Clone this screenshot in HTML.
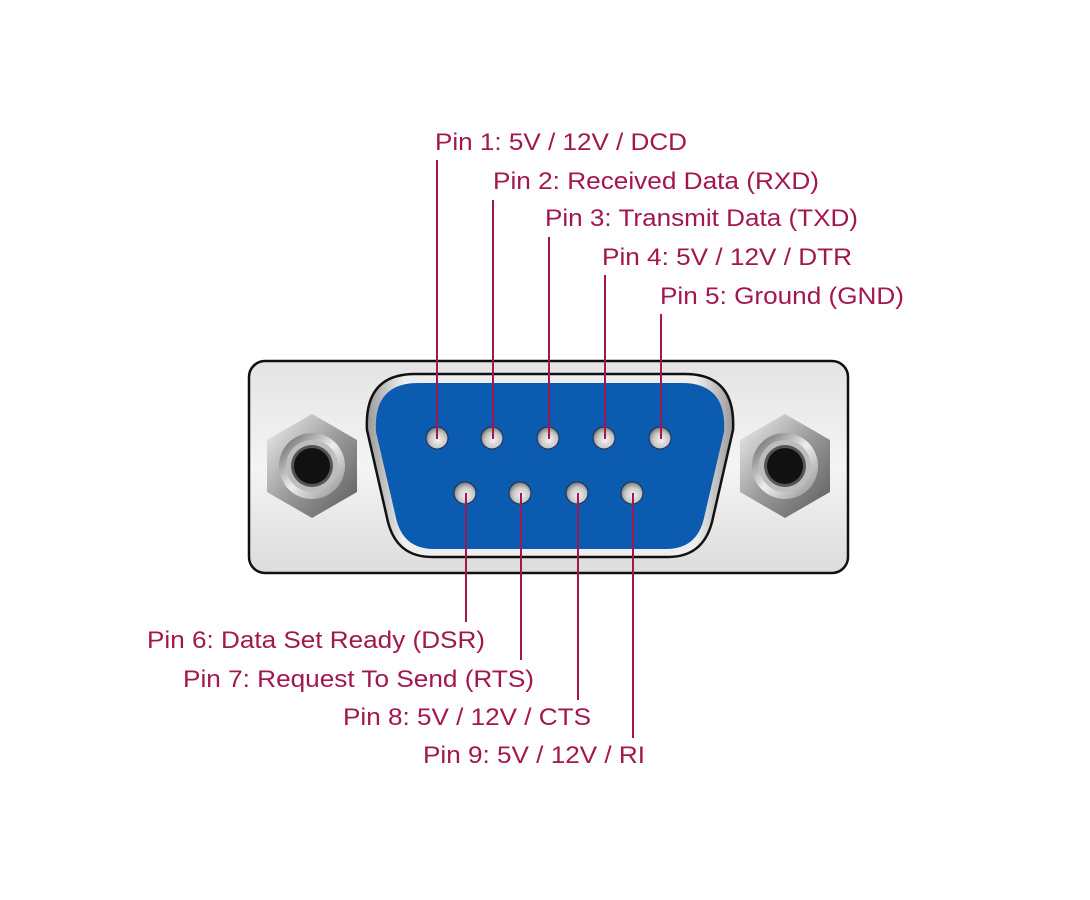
<!DOCTYPE html>
<html><head><meta charset="utf-8"><style>html,body{margin:0;padding:0;background:#fff;}svg{display:block}</style></head>
<body>
<svg width="1090" height="900" viewBox="0 0 1090 900" xmlns="http://www.w3.org/2000/svg">
<defs>
<linearGradient id="plate" x1="0" y1="0" x2="0" y2="1">
<stop offset="0" stop-color="#e4e4e4"/><stop offset="0.5" stop-color="#f4f4f4"/><stop offset="1" stop-color="#dcdcdc"/>
</linearGradient>
<linearGradient id="hex" x1="0" y1="0" x2="1" y2="1">
<stop offset="0" stop-color="#f2f2f2"/><stop offset="0.5" stop-color="#9a9a9a"/><stop offset="1" stop-color="#5a5a5a"/>
</linearGradient>
<linearGradient id="ring" x1="0" y1="0" x2="1" y2="1">
<stop offset="0" stop-color="#555"/><stop offset="0.5" stop-color="#eee"/><stop offset="1" stop-color="#888"/>
</linearGradient>
<radialGradient id="pin" cx="0.55" cy="0.6" r="0.6">
<stop offset="0" stop-color="#f4f4f4"/><stop offset="0.6" stop-color="#c8c8c8"/><stop offset="1" stop-color="#777"/>
</radialGradient>
<linearGradient id="rim" x1="0" y1="0" x2="1" y2="0">
<stop offset="0" stop-color="#999"/><stop offset="0.1" stop-color="#eee"/><stop offset="0.9" stop-color="#eee"/><stop offset="1" stop-color="#999"/>
</linearGradient>
</defs>
<rect x="249" y="361" width="599" height="212" rx="16" fill="url(#plate)" stroke="#111" stroke-width="2.5"/>
<!-- nuts -->
<g transform="translate(312,466)">
<polygon points="0,-52 45,-26 45,26 0,52 -45,26 -45,-26" fill="url(#hex)"/>
<circle r="33" fill="url(#ring)"/><circle r="26" fill="#bdbdbd"/><circle r="21" fill="#555"/><circle r="18" fill="#111"/>
</g>
<g transform="translate(785,466)">
<polygon points="0,-52 45,-26 45,26 0,52 -45,26 -45,-26" fill="url(#hex)"/>
<circle r="33" fill="url(#ring)"/><circle r="26" fill="#bdbdbd"/><circle r="21" fill="#555"/><circle r="18" fill="#111"/>
</g>
<!-- D shell -->
<path d="M415,374 L685,374 Q736,374 733,430 L712,522 Q703,557 668,557 L432,557 Q397,557 388,522 L367,430 Q364,374 415,374 Z" fill="url(#rim)" stroke="#111" stroke-width="2.5"/>
<path d="M418,383 L682,383 Q727,383 724,432 L704,518 Q697,549 666,549 L434,549 Q403,549 396,518 L376,432 Q373,383 418,383 Z" fill="#0b5cb0"/>
<g fill="url(#pin)" stroke="#1a3050" stroke-width="1">
<circle cx="437" cy="438" r="11"/><circle cx="492" cy="438" r="11"/><circle cx="548" cy="438" r="11"/><circle cx="604" cy="438" r="11"/><circle cx="660" cy="438" r="11"/>
<circle cx="465" cy="493" r="11"/><circle cx="520" cy="493" r="11"/><circle cx="577" cy="493" r="11"/><circle cx="632" cy="493" r="11"/>
</g>
<g stroke="#a3174f" stroke-width="2">
<line x1="437" y1="160" x2="437" y2="439"/>
<line x1="493" y1="200" x2="493" y2="439"/>
<line x1="549" y1="237" x2="549" y2="439"/>
<line x1="605" y1="275" x2="605" y2="439"/>
<line x1="661" y1="314" x2="661" y2="439"/>
<line x1="466" y1="493" x2="466" y2="622"/>
<line x1="521" y1="493" x2="521" y2="660"/>
<line x1="578" y1="493" x2="578" y2="700"/>
<line x1="633" y1="493" x2="633" y2="738"/>
</g>
<g fill="#a3174f" font-family="Liberation Sans, sans-serif" font-size="24">
<text x="435" y="150" textLength="252" lengthAdjust="spacingAndGlyphs">Pin 1: 5V / 12V / DCD</text>
<text x="493" y="189" textLength="326" lengthAdjust="spacingAndGlyphs">Pin 2: Received Data (RXD)</text>
<text x="545" y="226" textLength="313" lengthAdjust="spacingAndGlyphs">Pin 3: Transmit Data (TXD)</text>
<text x="602" y="265" textLength="250" lengthAdjust="spacingAndGlyphs">Pin 4: 5V / 12V / DTR</text>
<text x="660" y="304" textLength="244" lengthAdjust="spacingAndGlyphs">Pin 5: Ground (GND)</text>
<text x="147" y="648" textLength="338" lengthAdjust="spacingAndGlyphs">Pin 6: Data Set Ready (DSR)</text>
<text x="183" y="687" textLength="351" lengthAdjust="spacingAndGlyphs">Pin 7: Request To Send (RTS)</text>
<text x="343" y="725" textLength="248" lengthAdjust="spacingAndGlyphs">Pin 8: 5V / 12V / CTS</text>
<text x="423" y="763" textLength="222" lengthAdjust="spacingAndGlyphs">Pin 9: 5V / 12V / RI</text>
</g>
</svg>
</body></html>
